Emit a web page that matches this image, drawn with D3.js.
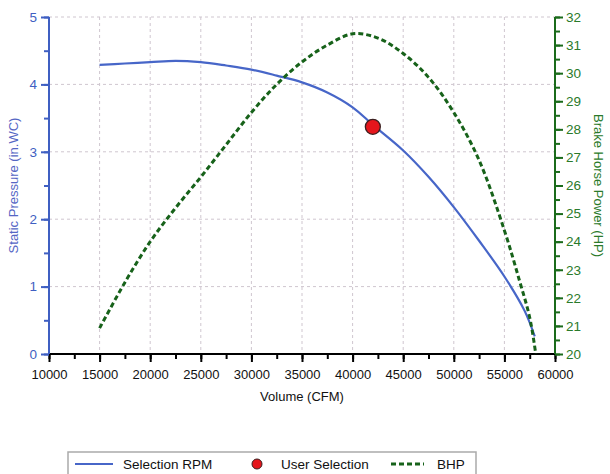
<!DOCTYPE html>
<html>
<head>
<meta charset="UTF-8">
<style>
  body { margin: 0; background: #fff; font-family: "Liberation Sans", Arial, sans-serif; }
  svg { display: block; }
</style>
</head>
<body>
<svg id="chart" width="610" height="474"></svg>
<script src="https://d3js.org/d3.v7.min.js"></script>
<script>
// fan curve data
const rpmVolume = [15000, 17500, 20000, 22500, 25000, 27500, 30000, 32500, 35000, 37500, 40000, 42000, 45000, 47500, 50000, 52500, 55000, 57000, 58000];
const rpmPressure = [4.29, 4.31, 4.33, 4.35, 4.33, 4.28, 4.22, 4.13, 4.03, 3.88, 3.66, 3.40, 3.02, 2.63, 2.18, 1.68, 1.15, 0.64, 0.26];

const bhpVolume = [15000, 17500, 20000, 22500, 25000, 27500, 30000, 32500, 35000, 37500, 40000, 42500, 45000, 47500, 50000, 52500, 55000, 56500, 57500, 58100];
const bhpPower = [20.92, 22.55, 24.0, 25.2, 26.3, 27.45, 28.6, 29.6, 30.4, 31.0, 31.4, 31.25, 30.7, 29.85, 28.6, 26.9, 24.4, 22.6, 21.3, 20.0];

const userSel = { volume: 42000, pressure: 3.37 };

const xTicks = [10000, 15000, 20000, 25000, 30000, 35000, 40000, 45000, 50000, 55000, 60000];
const leftTicks = [0, 1, 2, 3, 4, 5];
const rightTicks = [20, 21, 22, 23, 24, 25, 26, 27, 28, 29, 30, 31, 32];

const blue = "#3f5fc2", green = "#1b6b1b";
const pLeft = 49, pRight = 555, pTop = 17, pBottom = 354;

const svg = d3.select("#chart");

const x = d3.scaleLinear().domain([10000, 60000]).range([pLeft, pRight]);
const yL = d3.scaleLinear().domain([0, 5]).range([pBottom, pTop]);
const yR = d3.scaleLinear().domain([20, 32]).range([pBottom, pTop]);

// grid
const grid = svg.append("g").attr("stroke", "#cfc6cf").attr("stroke-dasharray", "3,3").attr("stroke-width", 1);
xTicks.slice(1, -1).forEach(v => {
  grid.append("line").attr("x1", x(v)).attr("x2", x(v)).attr("y1", pTop).attr("y2", pBottom);
});
leftTicks.slice(1).forEach(v => {
  grid.append("line").attr("x1", pLeft).attr("x2", pRight).attr("y1", yL(v)).attr("y2", yL(v));
});

// axes
const xMinor = d3.range(10000, 60001, 2500);
const gx = svg.append("g").attr("transform", `translate(0,${pBottom})`);
gx.call(d3.axisBottom(x).tickValues(xMinor).tickSize(5).tickFormat(""));
gx.call(g => g.append("g").call(d3.axisBottom(x).tickValues(xTicks).tickSize(8).tickFormat(d3.format("d"))));
gx.selectAll("path, line").attr("stroke", "#000").attr("stroke-width", 2);
gx.selectAll(".domain").attr("d", `M${pLeft},0H${pRight}`);
gx.selectAll("text").attr("fill", "#111").attr("font-size", 13).attr("dy", "1.1em")
  .attr("font-family", "Liberation Sans, Arial, sans-serif");

const gl = svg.append("g").attr("transform", `translate(${pLeft},0)`);
gl.call(d3.axisLeft(yL).tickValues(d3.range(0, 5.01, 0.5)).tickSize(5).tickFormat(""));
gl.call(g => g.append("g").call(d3.axisLeft(yL).tickValues(leftTicks).tickSize(8).tickFormat(d3.format("d"))));
gl.selectAll("path, line").attr("stroke", blue).attr("stroke-width", 2);
gl.selectAll(".domain").attr("d", `M0,${pTop}V${pBottom}`);
gl.selectAll("text").attr("fill", blue).attr("font-size", 13.5).attr("x", -12)
  .attr("font-family", "Liberation Sans, Arial, sans-serif");

const gr = svg.append("g").attr("transform", `translate(${pRight},0)`);
gr.call(d3.axisRight(yR).tickValues(d3.range(20, 32.01, 0.5)).tickSize(5).tickFormat(""));
gr.call(g => g.append("g").call(d3.axisRight(yR).tickValues(rightTicks).tickSize(8).tickFormat(d3.format("d"))));
gr.selectAll("path, line").attr("stroke", green).attr("stroke-width", 2);
gr.selectAll(".domain").attr("d", `M0,${pTop}V${pBottom}`);
gr.selectAll("text").attr("fill", "#2a7a2a").attr("font-size", 13.5).attr("x", 11)
  .attr("font-family", "Liberation Sans, Arial, sans-serif");

// axis titles
svg.append("text").attr("transform", `translate(18,${(pTop + pBottom) / 2}) rotate(-90)`)
  .attr("text-anchor", "middle").attr("font-size", 13).attr("fill", "#5566c4")
  .text("Static Pressure (in.WC)");
svg.append("text").attr("transform", `translate(594,${(pTop + pBottom) / 2}) rotate(90)`)
  .attr("text-anchor", "middle").attr("font-size", 13).attr("fill", "#2a7a2a")
  .text("Brake Horse Power (HP)");
svg.append("text").attr("x", 302).attr("y", 401).attr("text-anchor", "middle")
  .attr("font-size", 13).attr("fill", "#111").text("Volume (CFM)");

// curves
const rpmLine = d3.line().x(d => x(d[0])).y(d => yL(d[1])).curve(d3.curveCatmullRom);
svg.append("path").datum(d3.zip(rpmVolume, rpmPressure))
  .attr("d", rpmLine).attr("fill", "none").attr("stroke", "#4766c8").attr("stroke-width", 2.2);

const bhpLine = d3.line().x(d => x(d[0])).y(d => yR(d[1])).curve(d3.curveCatmullRom);
svg.append("path").datum(d3.zip(bhpVolume, bhpPower))
  .attr("d", bhpLine).attr("fill", "none").attr("stroke", "#17621a").attr("stroke-width", 3)
  .attr("stroke-dasharray", "5,3");

svg.append("circle").attr("cx", x(userSel.volume)).attr("cy", yL(userSel.pressure)).attr("r", 7.5)
  .attr("fill", "#e5161c").attr("stroke", "#3a2020").attr("stroke-width", 1.3);

// legend
const lg = svg.append("g");
lg.append("rect").attr("x", 68).attr("y", 452).attr("width", 408).attr("height", 26)
  .attr("fill", "#fff").attr("stroke", "#aaa").attr("stroke-width", 1.5);
lg.append("line").attr("x1", 75).attr("x2", 113).attr("y1", 464).attr("y2", 464)
  .attr("stroke", "#4766c8").attr("stroke-width", 2.2);
lg.append("text").attr("x", 123).attr("y", 468.5).attr("font-size", 13.5).attr("fill", "#111").text("Selection RPM");
lg.append("circle").attr("cx", 257).attr("cy", 464).attr("r", 5).attr("fill", "#e5161c").attr("stroke", "#3a2020");
lg.append("text").attr("x", 281).attr("y", 468.5).attr("font-size", 13.5).attr("fill", "#111").text("User Selection");
lg.append("line").attr("x1", 391).attr("x2", 424).attr("y1", 464).attr("y2", 464)
  .attr("stroke", "#17621a").attr("stroke-width", 3).attr("stroke-dasharray", "5,3");
lg.append("text").attr("x", 437).attr("y", 468.5).attr("font-size", 13.5).attr("fill", "#111").text("BHP");
</script>
</body>
</html>
